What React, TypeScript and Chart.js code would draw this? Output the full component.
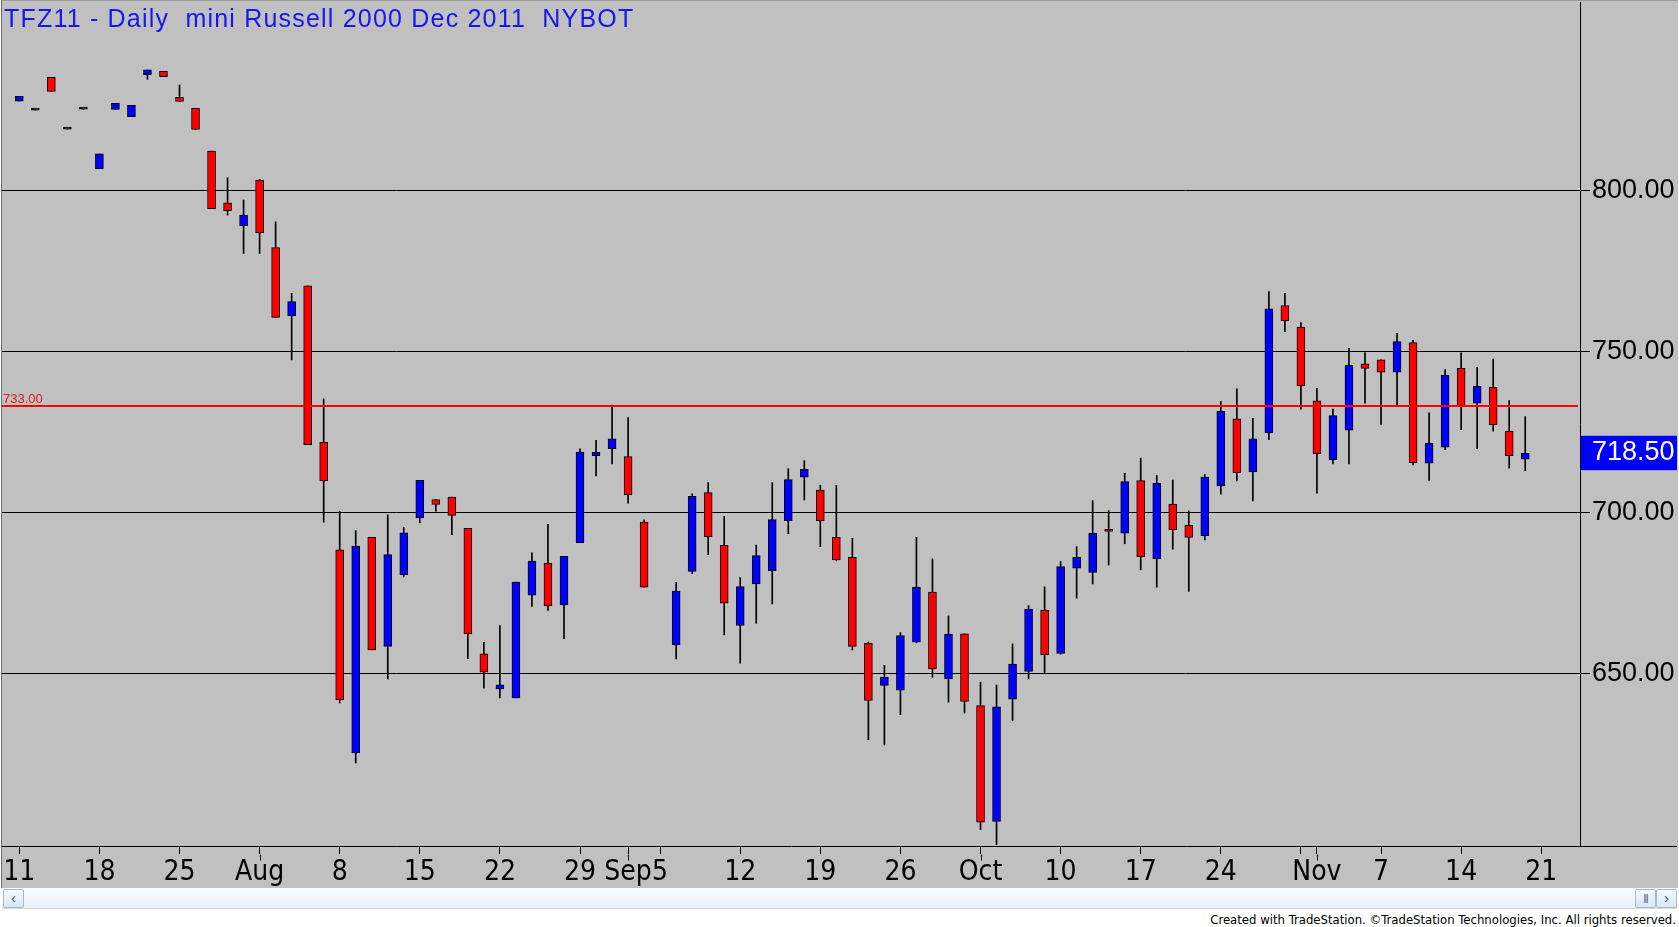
import React, { useEffect, useRef } from 'react';
import { Chart, registerables } from 'chart.js';

Chart.register(...registerables);

// TFZ11 daily bars, Jul 11 - Nov 18 2011. Slot 40 is Sep 5 (Labor Day, no bar).
const opens = [
  827.8, 825.0, 835.2, 819.1, 825.3, 806.8, 825.2, 823.0, 836.0, 837.1,
  829.0, 825.6, 812.3, 796.2, 789.1, 803.3, 782.3, 761.1, 770.4, 721.8,
  688.4, 625.3, 692.3, 658.4, 680.7, 698.3, 704.0, 704.8, 695.1, 656.1,
  645.2, 642.4, 674.3, 684.3, 671.3, 690.6, 717.7, 719.8, 717.4, 697.0,
  null, 658.9, 681.7, 706.2, 689.8, 664.9, 677.8, 681.9, 697.5, 711.0,
  707.0, 692.3, 686.1, 659.4, 646.3, 644.8, 659.7, 675.3, 648.3, 662.3,
  640.0, 604.0, 642.0, 650.6, 669.7, 656.2, 682.7, 681.4, 694.8, 693.6,
  709.9, 685.6, 702.6, 696.0, 692.8, 708.3, 729.1, 712.6, 724.7, 764.3,
  757.6, 734.7, 716.4, 725.6, 746.2, 747.4, 743.6, 752.8, 715.3, 720.3,
  744.8, 734.0, 738.9, 725.3, 716.6,
];
const highs = [
  829.3, 825.0, 835.2, 819.1, 825.3, 811.4, 827.1, 826.5, 837.5, 837.1,
  832.8, 825.6, 812.3, 804.0, 797.1, 803.5, 790.3, 768.1, 770.4, 735.3,
  700.4, 694.4, 692.3, 699.3, 695.4, 710.0, 704.0, 704.8, 695.1, 659.7,
  664.9, 678.4, 687.5, 696.3, 686.4, 719.8, 722.4, 733.4, 729.5, 697.7,
  null, 678.3, 705.8, 709.3, 698.8, 679.8, 689.9, 709.3, 713.6, 716.1,
  708.5, 708.4, 692.0, 659.8, 652.5, 662.7, 692.3, 685.6, 667.9, 662.3,
  647.3, 646.4, 659.2, 671.1, 676.9, 684.8, 689.4, 703.7, 700.6, 712.2,
  716.9, 711.5, 710.1, 700.5, 711.8, 734.5, 738.4, 729.3, 768.6, 768.1,
  759.0, 738.6, 732.1, 751.0, 749.7, 747.4, 755.7, 753.5, 731.0, 744.4,
  749.6, 745.1, 747.7, 734.8, 729.8,
];
const lows = [
  827.8, 825.0, 830.8, 819.1, 825.3, 806.8, 825.2, 823.0, 834.6, 835.4,
  827.7, 819.0, 794.4, 792.4, 780.5, 780.5, 760.5, 747.4, 721.1, 697.0,
  640.8, 622.2, 657.3, 648.3, 680.0, 696.8, 700.4, 693.1, 654.6, 645.4,
  642.4, 642.4, 670.8, 669.6, 660.8, 690.6, 711.4, 715.1, 702.9, 676.8,
  null, 654.5, 681.0, 686.9, 662.0, 653.2, 665.6, 671.6, 693.4, 703.9,
  689.4, 685.0, 657.3, 629.4, 627.8, 637.2, 659.5, 648.8, 641.1, 637.7,
  601.5, 596.8, 635.3, 648.3, 650.1, 656.0, 673.4, 677.8, 683.7, 690.3,
  682.2, 676.8, 688.6, 675.5, 691.5, 705.7, 709.8, 703.6, 722.6, 756.2,
  732.1, 706.0, 715.1, 715.1, 734.0, 727.4, 733.4, 714.8, 710.0, 719.5,
  725.7, 719.8, 725.3, 713.8, 713.0,
];
const closes = [
  829.3, 825.0, 830.8, 819.1, 825.3, 811.4, 827.1, 826.5, 837.5, 835.4,
  827.7, 819.0, 794.4, 793.8, 792.4, 786.9, 760.6, 765.5, 721.1, 709.8,
  641.8, 689.6, 657.3, 686.9, 693.7, 710.0, 702.5, 699.1, 662.3, 650.4,
  646.5, 678.4, 684.9, 671.0, 686.4, 718.8, 718.7, 722.9, 705.5, 676.8,
  null, 675.6, 705.0, 692.5, 671.8, 677.0, 686.6, 697.8, 710.2, 713.4,
  697.4, 685.3, 658.4, 641.6, 648.9, 661.8, 676.8, 651.4, 662.2, 641.3,
  603.8, 639.6, 652.9, 670.0, 655.8, 683.2, 686.1, 693.5, 694.1, 709.6,
  686.3, 709.1, 694.6, 692.3, 711.0, 731.4, 712.4, 722.9, 763.3, 759.5,
  739.3, 718.3, 730.1, 745.7, 744.8, 743.6, 753.1, 715.5, 721.6, 742.7,
  733.2, 739.2, 727.2, 717.7, 718.5,
];

// date axis: bar slot -> label (Mondays, month starts)
const tickPos = [0, 5, 10, 15, 20, 25, 30, 35, 38, 40, 45, 50, 55, 60, 65, 70, 75, 80, 81, 85, 90, 95];
const tickLabels = ['11', '18', '25', 'Aug', '8', '15', '22', '29', 'Sep', '5', '12', '19', '26', 'Oct', '10', '17', '24', '', 'Nov', '7', '14', '21'];
const monthTicks = [15, 38, 60, 81];

const priceTicks = [650, 700, 750, 800];
const alertLevel = 733;
const lastPrice = closes[closes.length - 1] as number;

const UP = '#0000ff';
const DOWN = '#ff0000';
const BG = '#c0c0c0';
const SANS = '"Liberation Sans", Arial, sans-serif';
const NARROW = '"Liberation Sans Narrow", "Arial Narrow", "DejaVu Sans Condensed", "Liberation Sans", sans-serif';

const tsDecor = {
  id: 'tsDecor',
  afterDatasetsDraw(chart: any) {
    const { ctx, chartArea: area } = chart;
    const py = Math.round(chart.scales.y.getPixelForValue(alertLevel));
    ctx.save();
    ctx.strokeStyle = '#ff0000';
    ctx.lineWidth = 2;
    ctx.beginPath();
    ctx.moveTo(area.left, py);
    ctx.lineTo(area.right - 2, py);
    ctx.stroke();
    ctx.fillStyle = '#e01818';
    ctx.font = '13px ' + SANS;
    ctx.textBaseline = 'alphabetic';
    ctx.fillText(alertLevel.toFixed(2), area.left + 1, py - 3);
    ctx.restore();
  },
  afterDraw(chart: any) {
    const { ctx, chartArea: area, width } = chart;
    const xs = chart.scales.x;
    const by = Math.round(area.bottom) + 0.5;
    ctx.save();
    ctx.strokeStyle = '#000';
    ctx.lineWidth = 1;
    ctx.beginPath();
    ctx.moveTo(area.right, by);
    ctx.lineTo(width, by);
    // month boundaries get a longer tick
    monthTicks.forEach((m) => {
      const px = Math.round(xs.getPixelForValue(m)) + 0.5;
      ctx.moveTo(px, by + 8);
      ctx.lineTo(px, by + 14);
    });
    ctx.stroke();
    ctx.restore();
  },
};

const TFZ11Chart: React.FC = () => {
  const chartRef = useRef<HTMLCanvasElement>(null);
  const chartInstance = useRef<Chart | null>(null);

  useEffect(() => {
    if (!chartRef.current) return;
    const ctx = chartRef.current.getContext('2d');
    if (!ctx) return;

    if (chartInstance.current) {
      chartInstance.current.destroy();
      chartInstance.current = null;
    }

    const slots = opens.map((_, i) => i);
    const bodyColors = slots.map((i) => {
      const o = opens[i];
      const c = closes[i];
      if (o == null || c == null) return 'transparent';
      return c > o ? UP : c < o ? DOWN : '#000';
    });

    const yTicks = [...priceTicks, lastPrice].sort((a, b) => a - b);
    const isLast = (c: any) => c.tick && c.tick.value === lastPrice;

    chartInstance.current = new Chart(ctx, {
      type: 'bar',
      data: {
        datasets: [
          {
            label: 'body',
            data: slots.map((i) => ({ x: i, y: opens[i] == null ? null : [opens[i], closes[i]] })) as any,
            backgroundColor: bodyColors,
            borderColor: '#000',
            borderWidth: 1,
            borderSkipped: false,
            barThickness: 8,
            minBarLength: 2,
            grouped: false,
            order: 0,
          },
          {
            label: 'range',
            data: slots.map((i) => ({ x: i, y: highs[i] == null ? null : [lows[i], highs[i]] })) as any,
            backgroundColor: '#000',
            borderWidth: 0,
            barThickness: 1,
            grouped: false,
            order: 1,
          },
        ],
      },
      options: {
        animation: false,
        responsive: false,
        layout: { padding: 0, autoPadding: false },
        plugins: {
          legend: { display: false },
          tooltip: { enabled: false },
        },
        scales: {
          x: {
            type: 'linear',
            min: -1.08,
            max: 97.42,
            offset: false,
            afterBuildTicks: (s: any) => {
              s.ticks = tickPos.map((v) => ({ value: v }));
            },
            afterFit: (s: any) => {
              s.height = 42;
              s.paddingLeft = 0;
              s.paddingRight = 0;
            },
            grid: {
              offset: false,
              drawOnChartArea: false,
              drawTicks: true,
              tickLength: 8,
              tickColor: '#000',
              color: '#000',
            },
            border: { display: true, color: '#000', width: 1 },
            ticks: {
              autoSkip: false,
              maxRotation: 0,
              padding: 2,
              color: '#000',
              font: { family: NARROW, size: 28 },
              callback: (v: any) => {
                const k = tickPos.indexOf(Number(v));
                return k >= 0 ? tickLabels[k] : '';
              },
            },
          },
          y: {
            type: 'linear',
            position: 'right',
            min: 596.4,
            max: 858.6,
            beginAtZero: false,
            afterBuildTicks: (s: any) => {
              s.ticks = yTicks.map((v) => ({ value: v }));
            },
            afterFit: (s: any) => {
              s.width = 97;
              s.paddingTop = 0;
              s.paddingBottom = 0;
            },
            grid: {
              color: (c: any) => (isLast(c) ? 'rgba(0,0,0,0)' : '#000'),
              tickColor: (c: any) => (isLast(c) ? 'rgba(0,0,0,0)' : '#000'),
              tickLength: 10,
              lineWidth: 1,
            },
            border: { display: true, color: '#000', width: 1 },
            ticks: {
              autoSkip: false,
              padding: 2,
              color: (c: any) => (isLast(c) ? '#ffffff' : '#000'),
              showLabelBackdrop: (c: any) => isLast(c),
              backdropColor: UP,
              backdropPadding: { left: 11, right: 12, top: 1, bottom: 1 },
              font: { family: SANS, size: 27 },
              callback: (v: any) => Number(v).toFixed(2),
            },
          },
        },
      },
      plugins: [tsDecor],
    } as any);

    return () => {
      if (chartInstance.current) {
        chartInstance.current.destroy();
        chartInstance.current = null;
      }
    };
  }, []);

  const btn: React.CSSProperties = {
    position: 'absolute',
    top: 1,
    width: 19,
    height: 17,
    border: '1px solid #a7bad3',
    borderRadius: 2,
    background: 'linear-gradient(#f7fafe, #d9e5f3)',
    color: '#3c5478',
    fontSize: 15,
    lineHeight: '16px',
    textAlign: 'center',
    fontFamily: SANS,
  };

  return (
    <div style={{ position: 'absolute', left: 0, top: 0, width: 1679, height: 927, background: '#fff', overflow: 'hidden' }}>
      <div
        style={{
          position: 'absolute',
          left: 1,
          top: 0,
          width: 1677,
          height: 888,
          background: BG,
          borderLeft: '1px solid #6e6e6e',
          borderTop: '1px solid #9c9c9c',
          boxSizing: 'border-box',
        }}
      />
      <canvas ref={chartRef} width={1675} height={886} style={{ position: 'absolute', left: 2, top: 2 }} />
      <div
        style={{
          position: 'absolute',
          left: 4,
          top: 6,
          fontFamily: SANS,
          fontSize: 25,
          lineHeight: '25px',
          letterSpacing: 1.2,
          color: '#1616ee',
          whiteSpace: 'pre',
        }}
      >
        TFZ11 - Daily  mini Russell 2000 Dec 2011  NYBOT
      </div>
      <div
        style={{
          position: 'absolute',
          left: 2,
          top: 888,
          width: 1675,
          height: 21,
          background: 'linear-gradient(#fbfdff, #e7eff9)',
          borderBottom: '1px solid #cfdbe9',
          boxSizing: 'border-box',
        }}
      >
        <div style={{ ...btn, left: 1 }}>‹</div>
        <div style={{ ...btn, left: 1633, fontSize: 9, letterSpacing: -1 }}>|||</div>
        <div style={{ ...btn, left: 1654 }}>›</div>
      </div>
      <div
        style={{
          position: 'absolute',
          right: 3,
          top: 913,
          fontFamily: NARROW,
          fontSize: 13,
          lineHeight: '14px',
          color: '#000',
          whiteSpace: 'nowrap',
        }}
      >
        Created with TradeStation. ©TradeStation Technologies, Inc. All rights reserved.
      </div>
    </div>
  );
};

export default function App() {
  return <TFZ11Chart />;
}
